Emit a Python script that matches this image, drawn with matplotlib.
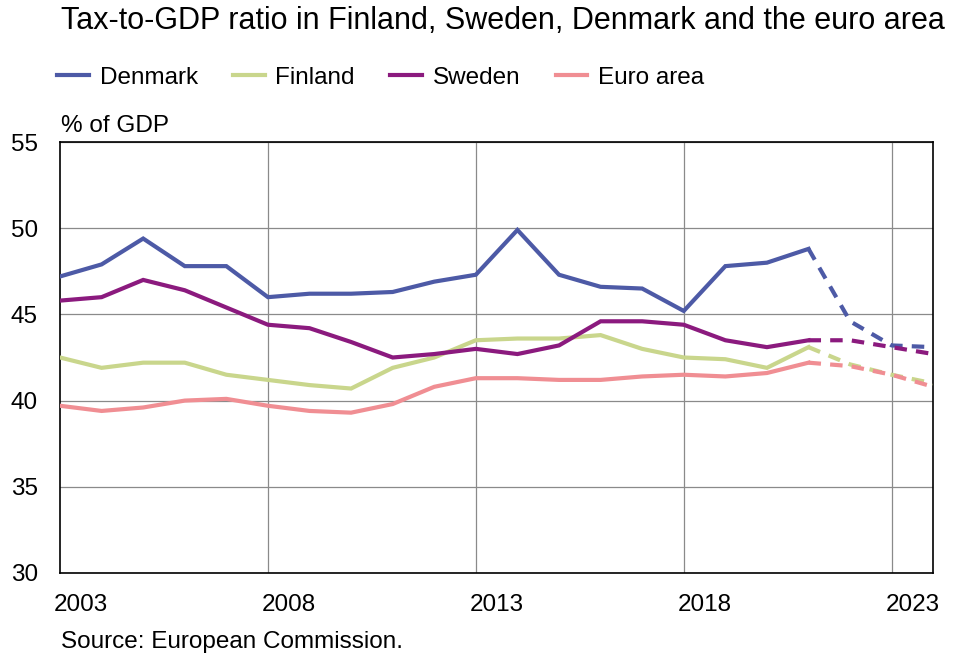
import numpy as np
import matplotlib.pyplot as plt

plt.rcParams['font.family'] = ['Liberation Sans', 'DejaVu Sans']

years = list(range(2003, 2025))
last_actual = 2021

denmark = [47.2, 47.9, 49.4, 47.8, 47.8, 46.0, 46.2, 46.2, 46.3, 46.9, 47.3,
           49.9, 47.3, 46.6, 46.5, 45.2, 47.8, 48.0, 48.8, 44.6, 43.2, 43.1]
finland = [42.5, 41.9, 42.2, 42.2, 41.5, 41.2, 40.9, 40.7, 41.9, 42.5, 43.5,
           43.6, 43.6, 43.8, 43.0, 42.5, 42.4, 41.9, 43.1, 42.1, 41.5, 41.0]
sweden = [45.8, 46.0, 47.0, 46.4, 45.4, 44.4, 44.2, 43.4, 42.5, 42.7, 43.0,
          42.7, 43.2, 44.6, 44.6, 44.4, 43.5, 43.1, 43.5, 43.5, 43.1, 42.7]
euro_area = [39.7, 39.4, 39.6, 40.0, 40.1, 39.7, 39.4, 39.3, 39.8, 40.8, 41.3,
             41.3, 41.2, 41.2, 41.4, 41.5, 41.4, 41.6, 42.2, 42.0, 41.5, 40.8]

series = [
    ("Denmark", denmark, "#4d5aa6"),
    ("Finland", finland, "#c9d68c"),
    ("Sweden", sweden, "#8b1a7e"),
    ("Euro area", euro_area, "#f08e93"),
]

fig = plt.figure(figsize=(9.57, 6.55), dpi=100)
ax = fig.add_axes([0.0627, 0.1252, 0.9125, 0.658])

x = np.array(years)
cut = years.index(last_actual)
for name, vals, col in series:
    v = np.array(vals)
    ax.plot(x[:cut + 1], v[:cut + 1], color=col, lw=3, label=name,
            solid_joinstyle='miter', zorder=3)
    ax.plot(x[cut:], v[cut:], color=col, lw=3, ls=(0, (3, 2.2)), zorder=3)

ax.set_xlim(2003, 2024)
ax.set_ylim(30, 55)
ax.set_yticks([30, 35, 40, 45, 50, 55])
ax.set_xticks([2008, 2013, 2018, 2023])
ax.set_xticklabels([])
ax.set_xticks([y + 0.5 for y in [2003, 2008, 2013, 2018, 2023]], minor=True)
ax.set_xticklabels(["2003", "2008", "2013", "2018", "2023"], minor=True)
ax.tick_params(which='both', length=0, labelsize=17.5, colors='black')
ax.tick_params(axis='x', which='minor', pad=15)
ax.tick_params(axis='y', pad=16)
ax.grid(True, which='major', color='#8a8a8a', lw=0.9)
ax.set_axisbelow(True)
for s in ax.spines.values():
    s.set_color('black')
    s.set_linewidth(1.2)

fig.text(0.064, 0.968, "Tax-to-GDP ratio in Finland, Sweden, Denmark and the euro area",
         fontsize=22, va='center', ha='left')
fig.text(0.064, 0.808, "% of GDP", fontsize=17.5, va='center', ha='left')
fig.text(0.064, 0.0198, "Source: European Commission.", fontsize=17.5, va='center', ha='left')

handles, labels = ax.get_legend_handles_labels()
fig.legend(handles, labels, loc='center left', bbox_to_anchor=(0.0596, 0.881),
           ncol=4, frameon=False, fontsize=17.5, handlelength=1.3,
           handletextpad=0.45, columnspacing=1.45, borderpad=0, borderaxespad=0)

fig.savefig("out.png", dpi=100)
